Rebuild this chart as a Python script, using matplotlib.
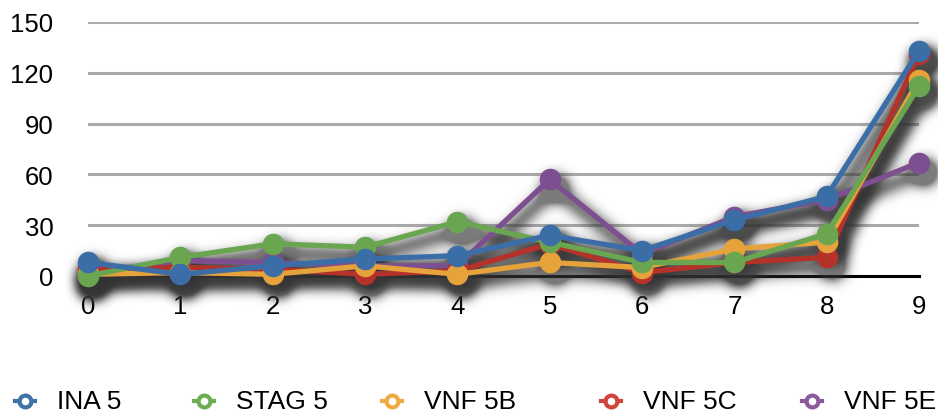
import numpy as np
import matplotlib
matplotlib.use("Agg")
import matplotlib.pyplot as plt
from matplotlib.lines import Line2D

# ---- data -------------------------------------------------------------
x_steps = [0, 1, 2, 3, 4, 5, 6, 7, 8, 9]
ina_5 = [8, 1, 6, 10, 12, 24, 15, 33, 47, 133]
stag_5 = [0, 11, 19, 17, 32, 20, 8, 8, 25, 112]
vnf_5b = [1, 2, 1, 6, 1, 8, 5, 16, 20, 116]
vnf_5c = [4, 5, 4, 1, 3, 19, 2, 8, 11, 131]
vnf_5e = [2, 9, 8, 6, 6, 57, 13, 35, 45, 67]

series_names = ["INA 5", "STAG 5", "VNF 5B", "VNF 5C", "VNF 5E"]
series_values = [ina_5, stag_5, vnf_5b, vnf_5c, vnf_5e]
y_ticks = [0, 30, 60, 90, 120, 150]

line_colors = ["#3b6ea6", "#6aa650", "#e6a23b", "#b5322b", "#7d4f90"]
legend_colors = ["#3f72a8", "#6fad55", "#f0ab47", "#d0453c", "#8a5a9a"]

plt.rcParams["font.family"] = ["Liberation Sans", "DejaVu Sans"]

W, H = 938, 414
fig = plt.figure(figsize=(W / 100, H / 100), dpi=100)
ax = fig.add_axes([88 / W, 137 / H, (919 - 88) / W, (277 - 23) / H])


def _blur1d(a, sigma, axis):
    r = int(3 * sigma)
    k = np.exp(-0.5 * (np.arange(-r, r + 1) / sigma) ** 2)
    k /= k.sum()
    return np.apply_along_axis(lambda v: np.convolve(v, k, mode="same"), axis, a)


def drop_shadow(im, dpi, sigma=7.0, dx=5, dy=-9, strength=2.1):
    """Blurred grey copy of the artist, shifted right and down."""
    pad = int(3 * sigma) + 14
    a = np.pad(im[..., 3], pad)
    a = _blur1d(_blur1d(a, sigma, 0), sigma, 1)
    out = np.zeros(a.shape + (4,), dtype=float)
    out[..., :3] = 0.2
    out[..., 3] = np.clip(a * strength, 0, 0.65)
    return out, -pad + dx, -pad + dy


# gridlines and baseline
ax.set_xlim(0, 9)
ax.set_ylim(0, 150)
ax.set_yticks(y_ticks)
ax.set_xticks(x_steps)
ax.yaxis.grid(True, color="#aaaaaa", linewidth=2.2)
ax.set_axisbelow(True)
for s in ["left", "right", "top"]:
    ax.spines[s].set_visible(False)
ax.spines["bottom"].set_color("black")
ax.spines["bottom"].set_linewidth(2.2)
ax.spines["bottom"].set_zorder(1.5)
ax.tick_params(axis="both", length=0, labelsize=18.5)
ax.tick_params(axis="y", pad=25)
ax.tick_params(axis="x", pad=13)

# soft shadows beneath all series
for vals in series_values[::-1]:
    sh, = ax.plot(x_steps, vals, color="black", lw=3.8, marker="o",
                  markersize=14.5, clip_on=False, zorder=1.8)
    sh.set_agg_filter(drop_shadow)

# the series themselves, first series drawn on top
for i in range(len(series_values) - 1, -1, -1):
    ax.plot(x_steps, series_values[i], color=line_colors[i], lw=3.8,
            marker="o", markersize=14.5, clip_on=False, zorder=3 + (5 - i))

# legend row along the bottom
legend_x = [25, 204, 392, 611, 812]
legend_y = 402
for i, name in enumerate(series_names):
    cx = legend_x[i]
    yf = (H - legend_y) / H
    fig.add_artist(Line2D([(cx - 10) / W, (cx + 10) / W], [yf, yf],
                          color=legend_colors[i], lw=3.0, transform=fig.transFigure))
    fig.add_artist(Line2D([cx / W], [yf], marker="o", markersize=8.5,
                          markerfacecolor="white", markeredgecolor=legend_colors[i],
                          markeredgewidth=3.0, transform=fig.transFigure, linestyle="none"))
    fig.text((cx + 32) / W, (H - 409) / H, name, fontsize=19,
             ha="left", va="baseline")

fig.savefig("out.png", dpi=100)
